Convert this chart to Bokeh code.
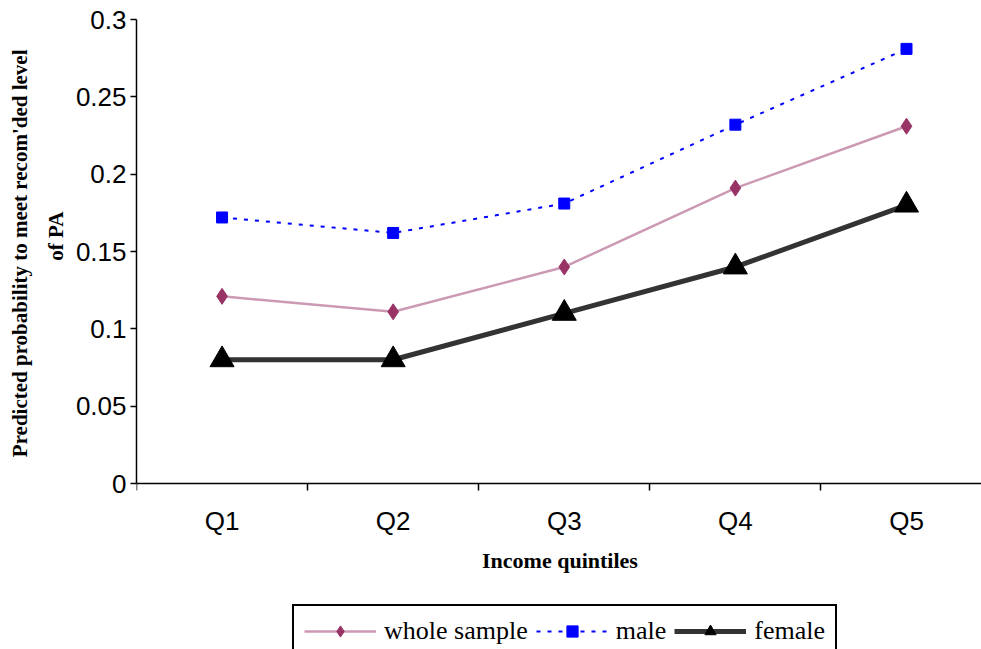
from bokeh.plotting import figure
from bokeh.models import (FixedTicker, NumeralTickFormatter, CustomJSTickFormatter,
                          Legend, LegendItem, Range1d, Title)
from bokeh.embed import file_html
from bokeh.resources import INLINE

categories = ["Q1", "Q2", "Q3", "Q4", "Q5"]
whole_sample = [0.121, 0.111, 0.140, 0.191, 0.231]
male = [0.172, 0.162, 0.181, 0.232, 0.281]
female = [0.080, 0.080, 0.110, 0.140, 0.180]
y_ticks = [0, 0.05, 0.1, 0.15, 0.2, 0.25, 0.3]
y_title_lines = ["Predicted probability to meet recom'ded level", "of PA"]
x_title = "Income quintiles"

xs = [i + 0.5 for i in range(len(categories))]

# layout: value axis 0..0.3 spans 464 px; the frame continues 166 px below 0
px_per_unit = 464 / 0.3
y_min = -166 / px_per_unit

p = figure(frame_width=847, frame_height=630, output_backend="svg", toolbar_location=None,
           x_range=Range1d(0, 4.95), y_range=Range1d(y_min, 0.3),
           min_border_left=134, min_border_right=0, min_border_top=19, min_border_bottom=0)
p.outline_line_color = None
p.xgrid.visible = False
p.ygrid.visible = False
p.background_fill_color = "white"
p.border_fill_color = "white"

r_w_line = p.line(xs, whole_sample, line_color="#CC99B4", line_width=2.5)
r_w_pts = p.scatter(xs, whole_sample, marker="diamond", size=16,
                    fill_color="#993366", line_color="#993366")
r_m_line = p.line(xs, male, line_color="#0000FF", line_width=2, line_dash="4 7")
r_m_pts = p.scatter(xs, male, marker="square", size=11, fill_color="#0000FF",
                    line_color="#0000FF")
r_f_line = p.line(xs, female, line_color="#333333", line_width=5)
r_f_pts = p.scatter(xs, female, marker="triangle", size=24, fill_color="black",
                    line_color="black")

# y axis
ya = p.yaxis[0]
ya.bounds = (0, 0.3)
ya.ticker = FixedTicker(ticks=y_ticks)
ya.formatter = NumeralTickFormatter(format="0.[00]")
ya.major_label_text_font = "Liberation Sans"
ya.major_label_text_font_size = "26px"
ya.major_label_text_color = "black"
ya.major_label_standoff = 4
ya.major_tick_in = 0
ya.major_tick_out = 6
ya.minor_tick_line_color = None
ya.axis_line_width = 1.5
ya.major_tick_line_width = 1.5

# y axis title as two lines, placed along the 0..0.3 part of the axis
for txt, off in [(y_title_lines[1], 192), (y_title_lines[0], 30)]:
    t = Title(text=txt, align="right", offset=off, text_font="Liberation Serif",
              text_font_style="bold", text_font_size="21px", text_color="black")
    p.add_layout(t, "left")

# x axis, drawn at value 0
xa = p.xaxis[0]
xa.fixed_location = 0
xa.ticker = FixedTicker(ticks=xs, minor_ticks=[0, 1, 2, 3, 4, 5])
xa.formatter = CustomJSTickFormatter(args=dict(cats=categories),
                                     code="return cats[Math.floor(tick)] || '';")
xa.axis_label = x_title
xa.axis_label_text_font = "Liberation Serif"
xa.axis_label_text_font_style = "bold"
xa.axis_label_text_font_size = "22px"
xa.axis_label_text_color = "black"
xa.axis_label_standoff = 9
xa.major_label_text_font = "Liberation Sans"
xa.major_label_text_font_size = "26px"
xa.major_label_text_color = "black"
xa.major_label_standoff = 15
xa.major_tick_line_color = None
xa.major_tick_in = 0
xa.major_tick_out = 0
xa.minor_tick_in = 0
xa.minor_tick_out = 7
xa.minor_tick_line_width = 1.5
xa.axis_line_width = 1.5

legend = Legend(items=[
    LegendItem(label="whole sample", renderers=[r_w_line, r_w_pts]),
    LegendItem(label="male", renderers=[r_m_line, r_m_pts]),
    LegendItem(label="female", renderers=[r_f_line, r_f_pts]),
], orientation="horizontal", location=(156, -9))
legend.label_text_font = "Liberation Serif"
legend.label_text_font_size = "26px"
legend.label_text_color = "black"
legend.glyph_width = 72
legend.glyph_height = 28
legend.label_standoff = 8
legend.spacing = 8
legend.padding = 10
legend.margin = 0
legend.border_line_color = "black"
legend.border_line_width = 2
legend.border_line_alpha = 1
p.add_layout(legend, "center")

open("out.html", "w").write(file_html(p, INLINE))
